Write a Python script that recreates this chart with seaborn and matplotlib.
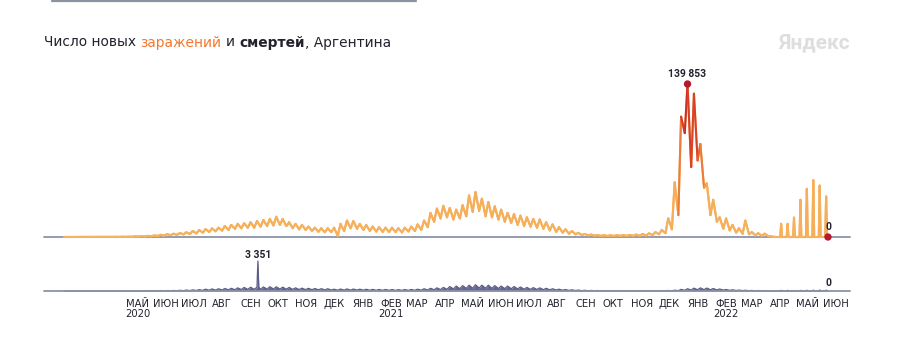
import numpy as np
import pandas as pd
import matplotlib
matplotlib.use("Agg")
import matplotlib.pyplot as plt
import matplotlib.dates as mdates
from matplotlib.collections import LineCollection
from matplotlib.colors import LinearSegmentedColormap
from matplotlib.lines import Line2D
import seaborn as sns

# ------------------------------------------------------------------ data
# Weekly readings (week starting Monday). "hi" = mid-week (Wednesday) value,
# "lo" = Sunday value. Cases in thousands.
first_week = "2020-03-02"
cases_hi = [0.01, 0.03, 0.08, 0.12, 0.10, 0.13, 0.14, 0.15, 0.18, 0.25,
            0.32, 0.6, 0.8, 1.0, 1.4, 2.0, 2.6, 3.0, 3.6, 4.3,
            5.5, 6.3, 7.2, 7.8, 8.5, 10.0, 11.0, 12.0, 12.5, 13.5,
            14.5, 15.5, 16.5, 18.5, 16.5, 13.5, 12.0, 11.0, 9.5, 8.5,
            8.0, 8.0, 8.5, 12.0, 15.0, 14.5, 12.0, 11.0, 9.5, 9.0,
            8.5, 8.5, 8.0, 8.5, 9.5, 11.5, 15.0, 22.0, 26.0, 28.5,
            26.5, 25.0, 29.0, 38.0, 41.0, 35.0, 32.0, 28.0, 25.0, 22.0,
            21.0, 19.5, 18.0, 16.5, 16.0, 13.5, 11.5, 9.0, 7.0, 5.5,
            3.8, 2.8, 2.2, 1.8, 1.6, 1.6, 1.7, 1.8, 1.9, 2.2,
            2.7, 3.3, 4.5, 6.5, 17.0, 50.0, 110.0, 139.853, 131.0, 85.0,
            49.0, 34.0, 18.0, 17.0, 11.0, 8.0, 15.0, 4.5, 3.5, 3.0,
            0.5]
cases_lo = [0.0, 0.02, 0.05, 0.08, 0.07, 0.08, 0.09, 0.10, 0.12, 0.15,
            0.2, 0.4, 0.55, 0.7, 0.95, 1.3, 1.7, 2.0, 2.4, 2.8,
            3.3, 4.0, 4.6, 5.2, 5.8, 6.4, 7.5, 8.0, 8.5, 8.5,
            9.5, 10.0, 10.5, 11.0, 10.0, 8.0, 7.0, 6.5, 5.5, 4.8,
            4.3, 4.5, 1.0, 5.5, 8.0, 7.5, 6.5, 5.5, 5.0, 4.6,
            4.5, 4.5, 4.2, 5.0, 5.5, 6.5, 9.0, 14.0, 17.0, 18.0,
            16.0, 17.0, 19.0, 23.0, 24.0, 19.0, 18.0, 16.0, 14.0, 13.0,
            11.0, 10.0, 9.5, 8.5, 7.6, 6.0, 4.6, 4.0, 3.0, 2.5,
            1.8, 1.5, 1.2, 1.0, 0.9, 0.9, 1.0, 1.0, 1.1, 1.2,
            1.4, 1.8, 2.5, 3.5, 7.0, 20.0, 95.0, 64.0, 70.0, 45.0,
            20.0, 14.0, 7.6, 6.0, 4.0, 3.0, 2.5, 1.5, 1.0, 0.8,
            0.0]

# From late April 2022 data were reported once a week (Sundays)
weekly_report_dates = ["2022-04-24", "2022-05-01", "2022-05-08", "2022-05-15",
                       "2022-05-22", "2022-05-29", "2022-06-05", "2022-06-12"]
weekly_cases = [12.0, 12.0, 17.7, 34.0, 44.0, 52.0, 47.0, 37.0]
weekly_deaths = [90, 80, 60, 70, 90, 100, 120, 110]
last_date = "2022-06-14"

deaths_hi = [0, 1, 3, 5, 8, 15, 20, 18, 15, 15,
             15, 20, 25, 30, 35, 45, 50, 60, 80, 100,
             120, 150, 200, 230, 250, 280, 300, 350, 400, 420,
             420, 450, 480, 470, 430, 400, 350, 320, 300, 280,
             260, 250, 200, 220, 230, 220, 200, 190, 180, 170,
             170, 160, 150, 160, 170, 200, 250, 300, 350, 400,
             500, 550, 600, 650, 700, 650, 650, 600, 550, 550,
             500, 450, 400, 380, 350, 300, 250, 200, 160, 130,
             100, 80, 60, 50, 45, 40, 40, 40, 40, 35,
             35, 35, 40, 40, 60, 90, 180, 250, 320, 350,
             330, 280, 220, 170, 130, 100, 80, 60, 50, 40,
             20]
deaths_lo = [0, 0, 1, 2, 4, 6, 8, 8, 6, 6,
             6, 8, 10, 12, 15, 20, 22, 28, 35, 45,
             55, 70, 90, 100, 110, 130, 140, 160, 180, 190,
             200, 210, 220, 210, 200, 180, 160, 150, 140, 130,
             120, 110, 90, 100, 100, 100, 90, 85, 80, 75,
             75, 70, 70, 75, 80, 90, 110, 140, 160, 190,
             230, 260, 290, 310, 330, 310, 300, 280, 260, 250,
             230, 200, 180, 170, 150, 130, 110, 90, 70, 55,
             40, 30, 25, 20, 18, 15, 15, 15, 15, 14,
             14, 14, 15, 16, 25, 40, 80, 110, 140, 150,
             140, 120, 100, 75, 55, 45, 35, 25, 20, 15,
             0]
deaths_spike_dates = ["2020-10-01", "2020-10-02"]
deaths_spike_vals = [3351, 400]

month_names = ["МАЙ", "ИЮН", "ИЮЛ", "АВГ", "СЕН", "ОКТ", "НОЯ", "ДЕК",
               "ЯНВ", "ФЕВ", "МАР", "АПР"]
first_label_month = "2020-05-01"
n_month_labels = 26
year_marks = {"2020-05": "2020", "2021-02": "2021", "2022-02": "2022"}

title_parts = ["Число новых", "заражений", "и", "смертей", ", Аргентина"]

# ------------------------------------------------------------------ series
weeks = pd.date_range(first_week, periods=len(cases_hi), freq="7D")
hi_dates = weeks + pd.Timedelta(days=2)
lo_dates = weeks + pd.Timedelta(days=6)
tail_days = pd.date_range(lo_dates[-1] + pd.Timedelta(days=1), last_date, freq="D")

tail_c = pd.Series(0.0, index=tail_days)
tail_c[pd.to_datetime(weekly_report_dates)] = weekly_cases
cases = pd.concat([pd.Series(cases_hi, index=hi_dates),
                   pd.Series(cases_lo, index=lo_dates), tail_c]).sort_index() * 1000.0

tail_d = pd.Series(0.0, index=tail_days)
tail_d[pd.to_datetime(weekly_report_dates)] = weekly_deaths
deaths = pd.concat([pd.Series(deaths_hi, index=hi_dates, dtype=float),
                    pd.Series(deaths_lo, index=lo_dates, dtype=float),
                    pd.Series(deaths_spike_vals, index=pd.to_datetime(deaths_spike_dates), dtype=float),
                    tail_d]).sort_index()

df_c = pd.DataFrame({"date": cases.index, "value": cases.values})
df_d = pd.DataFrame({"date": deaths.index, "value": deaths.values})

# ------------------------------------------------------------------ style
sns.set_theme(style="white")
plt.rcParams["font.family"] = ["DejaVu Sans"]
DARK = "#22222e"
AXIS = "#8a93a8"

W, H = 915, 337
fig = plt.figure(figsize=(W / 100, H / 100), dpi=100)
ax1 = fig.add_axes([44 / W, 100 / H, 806 / W, 167 / H])
ax2 = fig.add_axes([44 / W, 46 / H, 806 / W, 41 / H])

xlim = (pd.Timestamp("2020-02-11"), pd.Timestamp("2022-07-08"))
peak_idx = cases.idxmax()
peak_val = cases.max()

# ---- cases line with value gradient
sns.lineplot(data=df_c, x="date", y="value", ax=ax1, color="#f5b15e",
             lw=1.5, sort=True, estimator=None)
xn = mdates.date2num(cases.index.to_pydatetime())
yv = cases.values
pts = np.column_stack([xn, yv]).reshape(-1, 1, 2)
segs = np.concatenate([pts[:-1], pts[1:]], axis=1)
cmap = LinearSegmentedColormap.from_list(
    "heat", [(0.0, "#f6b25e"), (0.25, "#f5ad58"), (0.42, "#ef8744"),
             (0.58, "#e45c2e"), (0.78, "#d43522"), (1.0, "#bd1e28")])
mid = (yv[:-1] + yv[1:]) / 2 / peak_val
lc = LineCollection(segs, colors=cmap(mid), linewidths=1.5,
                    capstyle="round", joinstyle="round", zorder=3)
lc.set_clip_on(False)
ax1.add_collection(lc)
ax1.axhline(0, color=AXIS, lw=1.3, zorder=1)

sns.scatterplot(x=[peak_idx, cases.index[-1]], y=[peak_val, cases.iloc[-1]],
                ax=ax1, color="#b8182c", s=28, edgecolor="none", zorder=5,
                clip_on=False)
ax1.annotate(f"{int(round(peak_val)):,}".replace(",", " "),
             xy=(peak_idx, peak_val), xytext=(0, 5), textcoords="offset points",
             ha="center", va="baseline", fontsize=7.4, fontweight="bold",
             color=DARK, family="Roboto")
ax1.annotate(f"{int(cases.iloc[-1])}", xy=(cases.index[-1], cases.iloc[-1]),
             xytext=(0, 5), textcoords="offset points", ha="center",
             va="baseline", fontsize=7.4, fontweight="bold", color=DARK,
             family="Roboto")
ax1.set_xlim(xlim)
ax1.set_ylim(0, peak_val * 167 / 153)

# ---- deaths area
DCOL = "#5b5d86"
ax2.fill_between(deaths.index, 0, deaths.values, color="#66688f", lw=0, zorder=2)
sns.lineplot(data=df_d, x="date", y="value", ax=ax2, color=DCOL, lw=0.9,
             sort=True, estimator=None)
ax2.axhline(0, color=AXIS, lw=1.3, zorder=3)
d_peak_idx = deaths.idxmax()
d_peak = deaths.max()
ax2.annotate(f"{int(d_peak):,}".replace(",", " "), xy=(d_peak_idx, d_peak),
             xytext=(0, 2.5), textcoords="offset points", ha="center",
             va="baseline", fontsize=7.4, fontweight="bold", color=DARK,
             family="Roboto")
ax2.annotate(f"{int(deaths.iloc[-1])}", xy=(deaths.index[-1], deaths.iloc[-1]),
             xytext=(0, 3.6), textcoords="offset points", ha="center",
             va="baseline", fontsize=7.4, fontweight="bold", color=DARK,
             family="Roboto")
ax2.set_xlim(xlim)
ax2.set_ylim(0, d_peak * 41 / 30)

for ax in (ax1, ax2):
    for ln in ax.lines:
        ln.set_clip_on(False)
    sns.despine(ax=ax, left=True, bottom=True)
    ax.set_xlabel("")
    ax.set_ylabel("")
    ax.set_yticks([])

ax1.set_xticks([])
month_starts = pd.date_range(first_label_month, periods=n_month_labels, freq="MS")
tick_pos = month_starts + pd.Timedelta(days=22)
labels = []
for m in month_starts:
    lab = month_names[(m.month - 5) % 12]
    key = m.strftime("%Y-%m")
    if key in year_marks:
        lab += "\n" + year_marks[key]
    labels.append(lab)
ax2.set_xticks(tick_pos)
ax2.set_xticklabels(labels, fontsize=7.2, color=DARK, linespacing=0.95)
ax2.tick_params(axis="x", length=0, pad=5.8)

# ---- title (mixed styles)
fig.canvas.draw()
renderer = fig.canvas.get_renderer()
tfs = 9.95
def _w(s, weight="normal"):
    t = fig.text(0, 0, s, fontsize=tfs, fontweight=weight)
    w = t.get_window_extent(renderer).width
    t.remove()
    return w
space_px = _w("н н") - _w("нн")
styles = [dict(color=DARK), dict(color="#f5772b"), dict(color=DARK),
          dict(color=DARK, fontweight="bold"), dict(color=DARK)]
gaps = [True, True, True, False]
x_px = 44.0
y_title = 1 - 46.5 / H
for i, (part, st) in enumerate(zip(title_parts, styles)):
    t = fig.text(x_px / W, y_title, part, fontsize=tfs, va="baseline", ha="left", **st)
    fig.canvas.draw()
    bb = t.get_window_extent(renderer)
    x_px = bb.x1 + (space_px if i < len(gaps) and gaps[i] else 0)

# watermark
fig.text(850 / W, 1 - 48.5 / H, "Яндекс", ha="right", va="baseline",
         fontsize=15, fontweight="bold", color="#dedede", family="Roboto")
# card border fragment at the very top
fig.add_artist(Line2D([52 / W, 416 / W], [1 - 0.6 / H] * 2, color="#8d92a3",
                      lw=1.6, solid_capstyle="round"))

fig.savefig("out.png", dpi=100)
